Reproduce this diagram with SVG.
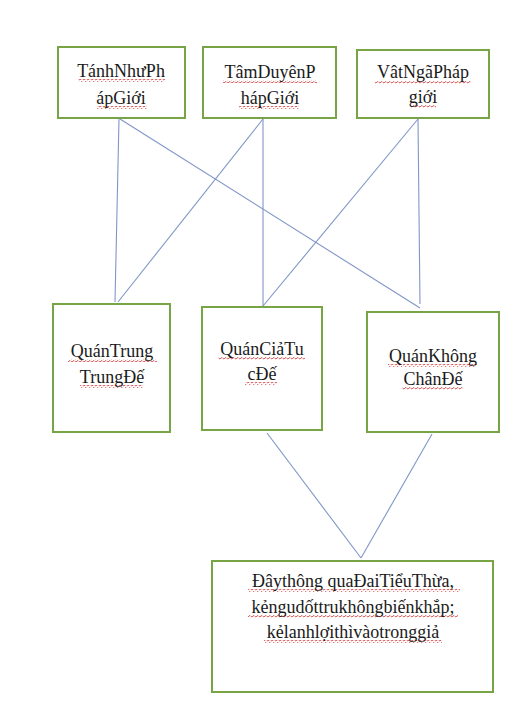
<svg xmlns="http://www.w3.org/2000/svg" width="521" height="707" viewBox="0 0 521 707">
<defs>
<pattern id="sq" patternUnits="userSpaceOnUse" width="4" height="3">
<path d="M0,2 L1,1 L2,0.5 L3,1.5 L4,2" fill="none" stroke="#d23b3b" stroke-width="0.8"/>
</pattern>
</defs>
<style>
.box{fill:#ffffff;stroke:#77a546;stroke-width:2}
.con{stroke:#8096c8;stroke-width:1.1;fill:none}
.t{font-family:"Liberation Serif","Times New Roman",serif;font-size:18px;fill:#1a1a1a;text-anchor:middle}
.s{fill:url(#sq)}
</style>
<rect width="521" height="707" fill="#ffffff"/>
<g id="connectors">
<line class="con" x1="119" y1="119" x2="115" y2="302"/>
<line class="con" x1="120" y1="119" x2="420" y2="308"/>
<line class="con" x1="263" y1="119" x2="118" y2="302"/>
<line class="con" x1="263" y1="119" x2="263" y2="307"/>
<line class="con" x1="418" y1="119" x2="263" y2="306"/>
<line class="con" x1="418" y1="119" x2="420" y2="304"/>
<line class="con" x1="267" y1="433" x2="361" y2="558"/>
<line class="con" x1="432" y1="434" x2="361" y2="558"/>
</g>
<g id="tanh-nhu">
<rect class="box" x="58" y="47" width="127" height="71"/>
<rect class="s" x="78" y="79" width="87" height="3"/>
<rect class="s" x="97" y="106" width="50" height="3"/>
<text class="t" x="121" y="77">TánhNhưPh</text>
<text class="t" x="121" y="104">ápGiới</text>
</g>
<g id="tam-duyen">
<rect class="box" x="203" y="47" width="133" height="71"/>
<rect class="s" x="223" y="80" width="94" height="3"/>
<rect class="s" x="239" y="106" width="60" height="3"/>
<text class="t" x="270" y="78">TâmDuyênP</text>
<text class="t" x="270" y="104">hápGiới</text>
</g>
<g id="vat-nga">
<rect class="box" x="357" y="50" width="132" height="68"/>
<rect class="s" x="375" y="81" width="96" height="3"/>
<rect class="s" x="410" y="105" width="26" height="3"/>
<text class="t" x="423" y="78">VâtNgãPháp</text>
<text class="t" x="423" y="103">giới</text>
</g>
<g id="quan-trung">
<rect class="box" x="53" y="304" width="117" height="128"/>
<rect class="s" x="68" y="359" width="89" height="3"/>
<rect class="s" x="80" y="385" width="63" height="3"/>
<text class="t" x="112" y="357">QuánTrung</text>
<text class="t" x="112" y="383">TrungĐế</text>
</g>
<g id="quan-cia">
<rect class="box" x="202" y="307" width="120" height="123"/>
<rect class="s" x="218" y="357" width="87" height="3"/>
<rect class="s" x="245" y="382" width="32" height="3"/>
<text class="t" x="262" y="355">QuánCiảTu</text>
<text class="t" x="262" y="380">cĐế</text>
</g>
<g id="quan-khong">
<rect class="box" x="367" y="312" width="132" height="120"/>
<rect class="s" x="388" y="364" width="89" height="3"/>
<rect class="s" x="402" y="387" width="61" height="3"/>
<text class="t" x="433" y="362">QuánKhông</text>
<text class="t" x="433" y="385">ChânĐế</text>
</g>
<g id="day-thong">
<rect class="box" x="212" y="561" width="281" height="131"/>
<rect class="s" x="248" y="589" width="212" height="3"/>
<rect class="s" x="248" y="615" width="210" height="3"/>
<rect class="s" x="264" y="640" width="178" height="3"/>
<text class="t" x="353" y="587">Đâythông quaĐaiTiểuThừa,</text>
<text class="t" x="353" y="613">kẻngudốttrukhôngbiếnkhắp;</text>
<text class="t" x="353" y="638">kẻlanhlợithìvàotronggiả</text>
</g>
</svg>
